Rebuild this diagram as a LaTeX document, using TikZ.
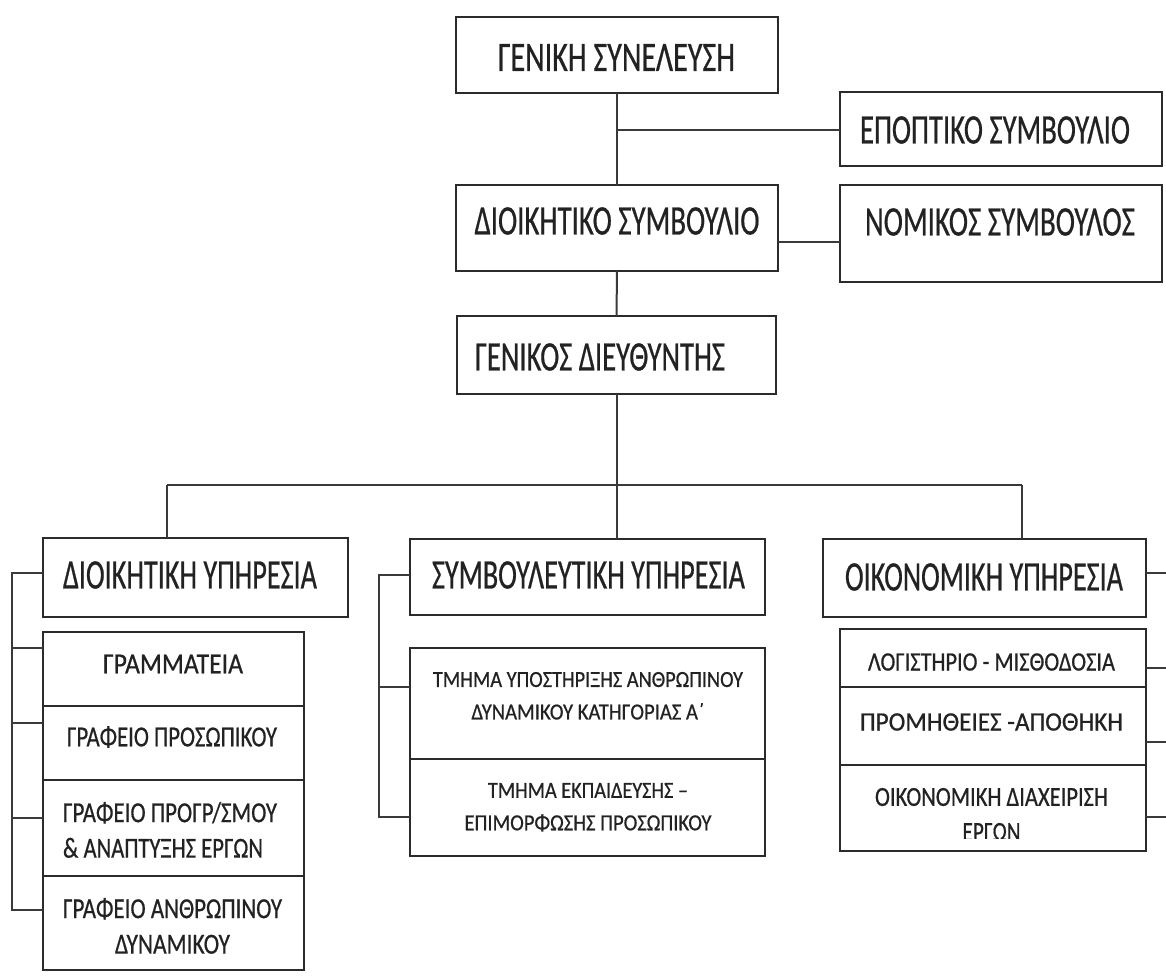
\documentclass[tikz,border=0pt]{standalone}
\usepackage{fontspec}
\setmainfont{Carlito}[RawFeature={embolden=0.7}]
\usepackage{graphicx}
\usetikzlibrary{fit}
\definecolor{boxc}{HTML}{2B2B2B}
\definecolor{linec}{HTML}{3A3A3A}
\definecolor{txtc}{HTML}{222222}
\newcommand\fitw[2]{\resizebox{#1pt}{\height}{#2}}
\tikzset{
  box/.style={draw=boxc, line width=2.4pt, inner sep=0pt, outer sep=0pt},
  conn/.style={draw=linec, line width=2pt},
  lbl/.style={text=txtc, inner sep=0pt, outer sep=0pt, align=center},
  bigf/.style={font=\fontsize{42}{50}\selectfont},
  leftf/.style={font=\fontsize{29}{35.5}\selectfont},
  midf/.style={font=\fontsize{23}{32.5}\selectfont},
  rightf/.style={font=\fontsize{26.5}{34}\selectfont},
  rightg/.style={font=\fontsize{27.5}{35}\selectfont}
}
\begin{document}
\begin{tikzpicture}[x=1pt,y=-1pt]
\useasboundingbox (0,0) rectangle (1166,976);

% ---------- boxes ----------
\node[box, fit={(456,17) (778,93)}]   (gs)   {};
\node[box, fit={(840,92) (1162,166)}] (epop) {};
\node[box, fit={(456,185) (778,271)}] (dsym) {};
\node[box, fit={(840,185) (1162,282)}] (nom) {};
\node[box, fit={(457,316) (776,394)}] (gd)   {};
\node[box, fit={(43,538) (348,617)}]  (d1)   {};
\node[box, fit={(410,539) (765,615)}] (d2)   {};
\node[box, fit={(823,539) (1146,617)}] (d3)  {};
\node[box, fit={(43,632) (304,706)}]  (l1)   {};
\node[box, fit={(43,706) (304,780)}]  (l2)   {};
\node[box, fit={(43,780) (304,876)}]  (l3)   {};
\node[box, fit={(43,876) (304,970)}]  (l4)   {};
\node[box, fit={(410,648) (765,759)}] (m1)   {};
\node[box, fit={(410,759) (765,856)}] (m2)   {};
\node[box, fit={(840,629) (1146,687)}] (r1)  {};
\node[box, fit={(840,687) (1146,765)}] (r2)  {};
\node[box, fit={(840,765) (1146,851)}] (r3)  {};

% ---------- texts ----------
\node[lbl,bigf] (tgs)   at (616.5,57.5) {\fitw{237}{ΓΕΝΙΚΗ ΣΥΝΕΛΕΥΣΗ}};
\node[lbl,bigf] (tepop) at (995,130)    {\fitw{270}{ΕΠΟΠΤΙΚΟ ΣΥΜΒΟΥΛΙΟ}};
\node[lbl,bigf] (tdsym) at (617,221)    {\fitw{285}{ΔΙΟΙΚΗΤΙΚΟ ΣΥΜΒΟΥΛΙΟ}};
\node[lbl,bigf] (tnom)  at (1000,222)   {\fitw{270}{ΝΟΜΙΚΟΣ ΣΥΜΒΟΥΛΟΣ}};
\node[lbl,bigf,anchor=west] (tgd) at (475,357) {\fitw{250}{ΓΕΝΙΚΟΣ ΔΙΕΥΘΥΝΤΗΣ}};
\node[lbl,bigf] (td1)   at (190,575)    {\fitw{254}{ΔΙΟΙΚΗΤΙΚΗ ΥΠΗΡΕΣΙΑ}};
\node[lbl,bigf] (td2)   at (588.5,575)  {\fitw{313}{ΣΥΜΒΟΥΛΕΥΤΙΚΗ ΥΠΗΡΕΣΙΑ}};
\node[lbl,bigf] (td3)   at (984,577)    {\fitw{278}{ΟΙΚΟΝΟΜΙΚΗ ΥΠΗΡΕΣΙΑ}};

\node[lbl,leftf] (tl1) at (173,664) {\fitw{140}{ΓΡΑΜΜΑΤΕΙΑ}};
\node[lbl,leftf] (tl2) at (172,737) {\fitw{210}{ΓΡΑΦΕΙΟ ΠΡΟΣΩΠΙΚΟΥ}};
\node[lbl,leftf,align=left,anchor=north west] (tl3) at (63,802)
  {\fitw{214}{ΓΡΑΦΕΙΟ ΠΡΟΓΡ/ΣΜΟΥ}\\\fitw{200}{\& ΑΝΑΠΤΥΞΗΣ ΕΡΓΩΝ}};
\node[lbl,leftf,anchor=north] (tl4) at (172.5,898)
  {\fitw{219}{ΓΡΑΦΕΙΟ ΑΝΘΡΩΠΙΝΟΥ}\\\fitw{115}{ΔΥΝΑΜΙΚΟΥ}};

\node[lbl,midf,anchor=north] (tm1) at (588,672)
  {\fitw{310}{ΤΜΗΜΑ ΥΠΟΣΤΗΡΙΞΗΣ ΑΝΘΡΩΠΙΝΟΥ}\\\fitw{233}{ΔΥΝΑΜΙΚΟΥ ΚΑΤΗΓΟΡΙΑΣ Α΄}};
\node[lbl,midf,anchor=north] (tm2) at (588,783)
  {\fitw{200}{ΤΜΗΜΑ ΕΚΠΑΙΔΕΥΣΗΣ –}\\\fitw{247}{ΕΠΙΜΟΡΦΩΣΗΣ ΠΡΟΣΩΠΙΚΟΥ}};

\node[lbl,rightf] (tr1) at (991.5,662) {\fitw{247}{ΛΟΓΙΣΤΗΡΙΟ - ΜΙΣΘΟΔΟΣΙΑ}};
\node[lbl,rightf] (tr2) at (991.5,722) {\fitw{263}{ΠΡΟΜΗΘΕΙΕΣ -ΑΠΟΘΗΚΗ}};
\begin{scope}
  \clip (840,765) rectangle (1146,838);
  \node[lbl,rightg,anchor=north] (tr3) at (991.5,788)
    {\fitw{233}{ΟΙΚΟΝΟΜΙΚΗ ΔΙΑΧΕΙΡΙΣΗ}\\\fitw{58}{ΕΡΓΩΝ}};
\end{scope}

% ---------- connectors: top ----------
\draw[conn] (gs.south) -- (dsym.north);
\coordinate (j1) at (617,130);
\draw[conn] (j1) -- (j1 -| epop.west);
\coordinate (j2) at (800,242);
\draw[conn] (j2 -| dsym.east) -- (j2 -| nom.west);
\draw[conn] (dsym.south) -- (gd.north);

% ---------- main bus ----------
\coordinate (b1) at (167,485);
\coordinate (b3) at (1022,485);
\draw[conn] (b1) -- (b3);
\draw[conn] (gd.south) -- (gd.south |- d2.north);
\draw[conn] (b1) -- (b1 |- d1.north);
\draw[conn] (b3) -- (b3 |- d3.north);

% ---------- left bus ----------
\coordinate (lk0) at (12,573);
\coordinate (lk1) at (12,648);
\coordinate (lk2) at (12,723);
\coordinate (lk3) at (12,818);
\coordinate (lk4) at (12,910);
\draw[conn] (lk0 -| d1.west) -- (lk0) -- (lk4) -- (lk4 -| l4.west);
\draw[conn] (lk1) -- (lk1 -| l1.west);
\draw[conn] (lk2) -- (lk2 -| l2.west);
\draw[conn] (lk3) -- (lk3 -| l3.west);

% ---------- middle bus ----------
\coordinate (mk0) at (379,575);
\coordinate (mk1) at (379,687);
\coordinate (mk2) at (379,817);
\draw[conn] (mk0 -| d2.west) -- (mk0) -- (mk2) -- (mk2 -| m2.west);
\draw[conn] (mk1) -- (mk1 -| m1.west);

% ---------- right ticks ----------
\coordinate (rk0) at (1166,573);
\coordinate (rk1) at (1166,668);
\coordinate (rk2) at (1166,742);
\coordinate (rk3) at (1166,817);
\draw[conn] (rk0 -| d3.east) -- (rk0);
\draw[conn] (rk1 -| r1.east) -- (rk1);
\draw[conn] (rk2 -| r2.east) -- (rk2);
\draw[conn] (rk3 -| r3.east) -- (rk3);
\end{tikzpicture}
\end{document}
